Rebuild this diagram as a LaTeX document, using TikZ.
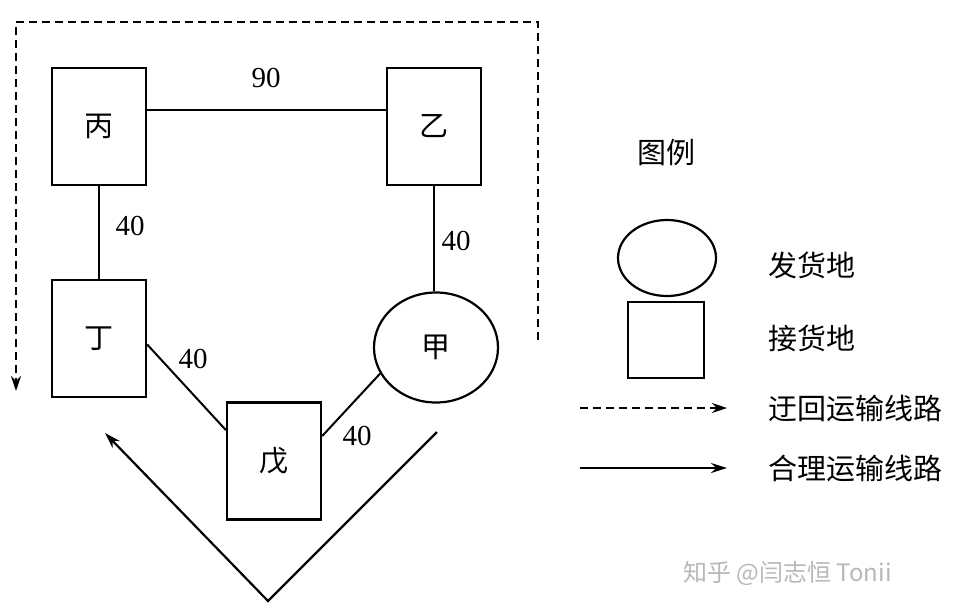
\documentclass[tikz,border=0pt]{standalone}
\usepackage{fontspec}
\setmainfont{Liberation Serif}
\newfontfamily\cjk{Noto Sans CJK SC}
\usetikzlibrary{arrows.meta,shapes.geometric}
\tikzset{
  site/.style={draw,line width=2.4pt,minimum width=94pt,minimum height=117pt,inner sep=0pt,font=\cjk\fontsize{29}{29}\selectfont},
  src/.style={draw,ellipse,line width=2.2pt,minimum width=124pt,minimum height=110pt,inner sep=0pt,font=\cjk\fontsize{29}{29}\selectfont},
  link/.style={line width=2pt},
  num/.style={font=\fontsize{29}{29}\selectfont,inner sep=0pt},
  legtext/.style={font=\cjk\fontsize{29}{29}\selectfont,inner sep=0pt,anchor=west},
  detour/.style={line width=2.2pt,dash pattern=on 8pt off 5pt,-{Stealth[length=15pt,width=10pt]}},
  good/.style={line width=2.2pt,-{Stealth[length=16pt,width=10pt]}},
}
\begin{document}
\begin{tikzpicture}[x=1pt,y=-1pt]
\useasboundingbox (0,0) rectangle (958,611);
\fill[white] (0,0) rectangle (958,611);
% nodes
\node[site] (bing) at (99,126.5) {丙};
\node[site] (yi) at (434,126.5) {乙};
\node[site] (ding) at (99,338.5) {丁};
\node[site] (wu) at (274,461) {戊};
\node[src] (jia) at (436,347.5) {甲};
% links
\draw[link] ([yshift=16.5pt]bing.east) -- ([yshift=16.5pt]yi.west);
\draw[link] (bing.south) -- (ding.north);
\draw[link] (yi.south) -- (yi.south |- jia.north);
\draw[link] ([yshift=-6pt]ding.east) -- ([yshift=31pt]wu.west);
\draw[link] (jia.205) -- ([yshift=25pt]wu.east);
% distance labels
\node[num] (l90) at (266,78) {90};
\node[num] (l40a) at (130,226) {40};
\node[num] (l40b) at (456,241) {40};
\node[num] (l40c) at (193,359) {40};
\node[num] (l40d) at (357,436) {40};
% detour route (dashed)
\coordinate (dR) at (538,340);
\coordinate (dTR) at (538,22);
\coordinate (dTL) at (16,22);
\coordinate (dL) at (16,391);
\draw[detour] (dR) -- (dTR) -- (dTL) -- (dL);
% rational route (solid V)
\coordinate (vR) at (437,432);
\coordinate (vB) at (268,601);
\coordinate (vL) at (105,433);
\draw[good] (vR) -- (vB) -- (vL);
% legend
\node[font=\cjk\fontsize{29}{29}\selectfont,inner sep=0pt] (legtitle) at (666,153) {图例};
\node[draw,ellipse,line width=2.2pt,minimum width=98pt,minimum height=76pt,inner sep=0pt] (legsrc) at (667,258) {};
\node[draw,line width=2.4pt,minimum width=76pt,minimum height=76pt,inner sep=0pt] (legsite) at (666,340) {};
\node[legtext] (t1) at (768,265) {发货地};
\node[legtext] (t2) at (768,338) {接货地};
\coordinate (a1s) at (580,408);
\coordinate (a1e) at (727,408);
\draw[detour] (a1s) -- (a1e);
\node[legtext] (t3) at (768,408) {迂回运输线路};
\coordinate (a2s) at (580,468);
\coordinate (a2e) at (727,468);
\draw[good] (a2s) -- (a2e);
\node[legtext] (t4) at (768,468) {合理运输线路};
% watermark
\node[font=\cjk\fontsize{24}{24}\selectfont,text=black!28,inner sep=0pt,anchor=west] (wm) at (683,573) {知乎 @闫志恒 Tonii};
\end{tikzpicture}
\end{document}
